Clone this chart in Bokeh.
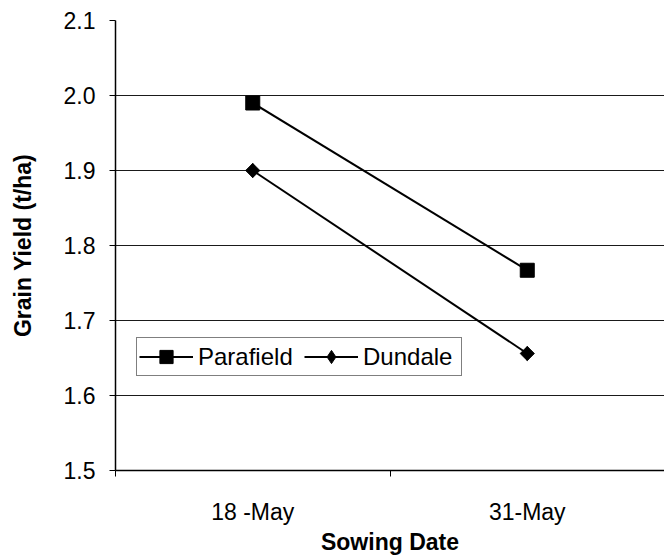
from math import pi

from bokeh.plotting import figure
from bokeh.models import (Range1d, FixedTicker, Legend, LegendItem,
                          NumeralTickFormatter)
from bokeh.embed import file_html
from bokeh.resources import INLINE

# Grain yield by sowing date for two varieties
dates = ["18 -May", "31-May"]
parafield = [1.99, 1.767]
dundale = [1.90, 1.656]
y_ticks = [1.5, 1.6, 1.7, 1.8, 1.9, 2.0, 2.1]

# each category sits in the middle of its own unit-wide slot
xpos = [i + 0.5 for i in range(len(dates))]
slot_edges = list(range(len(dates) + 1))

FONT = "Liberation Sans"
TICK_SIZE = "23px"
TITLE_SIZE = "23px"

p = figure(
    width=664, height=557,
    x_range=Range1d(0, len(dates)), y_range=Range1d(y_ticks[0], y_ticks[-1]),
    output_backend="svg", toolbar_location=None,
    min_border_left=115, min_border_right=0, min_border_top=20, min_border_bottom=87,
)
p.outline_line_color = None
p.background_fill_color = "white"
p.border_fill_color = "white"

# x axis: labels at slot centres, tick marks at slot edges
p.xaxis.ticker = FixedTicker(ticks=xpos, minor_ticks=slot_edges)
p.xaxis.major_label_overrides = {x: d for x, d in zip(xpos, dates)}
p.xaxis.major_tick_out = 0
p.xaxis.major_tick_in = 0
p.xaxis.minor_tick_out = 6
p.xaxis.minor_tick_in = 0
p.xaxis.minor_tick_line_color = "black"
p.xaxis.axis_line_color = "black"
p.xaxis.axis_line_width = 1.5
p.xaxis.major_label_standoff = 22
p.xaxis.axis_label = "Sowing Date"
p.xaxis.axis_label_standoff = 1

# y axis
p.yaxis.ticker = FixedTicker(ticks=y_ticks, minor_ticks=[])
p.yaxis.formatter = NumeralTickFormatter(format="0.0")
p.yaxis.major_tick_out = 6
p.yaxis.major_tick_in = 0
p.yaxis.major_tick_line_color = "black"
p.yaxis.axis_line_color = "black"
p.yaxis.axis_line_width = 1.5
p.yaxis.major_label_standoff = 14
p.yaxis.axis_label = "Grain Yield (t/ha)"
p.yaxis.axis_label_standoff = 25

for ax in (p.xaxis, p.yaxis):
    ax.major_label_text_font = FONT
    ax.major_label_text_font_size = TICK_SIZE
    ax.major_label_text_color = "black"
    ax.axis_label_text_font = FONT
    ax.axis_label_text_font_size = TITLE_SIZE
    ax.axis_label_text_font_style = "bold"
    ax.axis_label_text_color = "black"

p.xgrid.grid_line_color = None
p.ygrid.ticker = FixedTicker(ticks=y_ticks)
p.ygrid.grid_line_color = "#1a1a1a"
p.ygrid.grid_line_width = 1

# series
r1l = p.line(xpos, parafield, line_color="black", line_width=2)
r1m = p.scatter(xpos, parafield, marker="square", size=14,
                fill_color="black", line_color="black")
r2l = p.line(xpos, dundale, line_color="black", line_width=2)
# narrow diamond underneath, used as the legend swatch
r2key = p.scatter(xpos, dundale, marker="diamond", size=14,
                  fill_color="black", line_color="black")
r2m = p.scatter(xpos, dundale, marker="square", angle=pi / 4, size=10,
                fill_color="black", line_color="black")

legend = Legend(
    items=[
        LegendItem(label="Parafield", renderers=[r1l, r1m]),
        LegendItem(label="Dundale", renderers=[r2l, r2key]),
    ],
    orientation="horizontal",
    location=(21, 94),
    margin=0,
    padding=2,
    spacing=10,
    glyph_width=54,
    glyph_height=33,
    label_standoff=5,
    label_width=96,
    label_text_font=FONT,
    label_text_font_size="24px",
    label_text_color="black",
    border_line_color="black",
    border_line_width=1,
    background_fill_color="white",
    background_fill_alpha=1.0,
)
p.add_layout(legend, "center")

open("out.html", "w").write(file_html(p, INLINE))
